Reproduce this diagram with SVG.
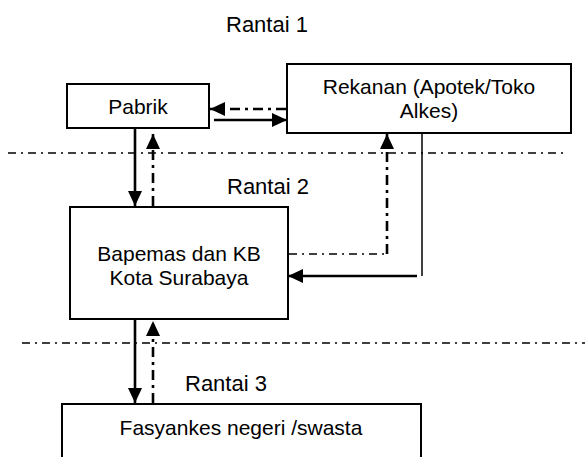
<svg xmlns="http://www.w3.org/2000/svg" width="585" height="457" viewBox="0 0 585 457">
  <style>
    .box { fill: #ffffff; stroke: #000000; stroke-width: 2; }
    .lbl { font-family: "Liberation Sans", Arial, sans-serif; font-size: 21px; fill: #000000; text-anchor: middle; }
    .tier { font-family: "Liberation Sans", Arial, sans-serif; font-size: 22px; fill: #000000; }
    .sep { fill: none; stroke: #000000; stroke-width: 1.5; stroke-dasharray: 8 5 2 5; }
    .flow { fill: none; stroke: #000000; stroke-width: 2.6; }
    .back { fill: none; stroke: #000000; stroke-width: 2.6; stroke-dasharray: 10 5 3 5; }
    .thin { fill: none; stroke: #000000; stroke-width: 1.5; }
    .thinback { fill: none; stroke: #000000; stroke-width: 1.5; stroke-dasharray: 8 5 2 5; }
  </style>
  <defs>
    <marker id="head" markerUnits="userSpaceOnUse" markerWidth="15" markerHeight="14" refX="15" refY="7" orient="auto">
      <path d="M0,0 L15,7 L0,14 Z" fill="#000000"/>
    </marker>
  </defs>

  <rect width="585" height="457" fill="#ffffff"/>

  <!-- tier separators -->
  <g id="separators">
    <line class="sep" x1="8" y1="153" x2="566" y2="153"/>
    <line class="sep" x1="22" y1="343" x2="585" y2="343"/>
  </g>

  <!-- tier labels -->
  <g id="tiers">
    <text class="tier" x="226" y="32">Rantai 1</text>
    <text class="tier" x="227" y="194">Rantai 2</text>
    <text class="tier" x="185" y="391">Rantai 3</text>
  </g>

  <g id="pabrik">
    <rect class="box" x="67" y="84" width="142" height="44"/>
    <text class="lbl" x="138" y="114">Pabrik</text>
  </g>

  <g id="rekanan">
    <rect class="box" x="287" y="64" width="284" height="69"/>
    <text class="lbl" x="429" y="94">Rekanan (Apotek/Toko</text>
    <text class="lbl" x="429" y="118">Alkes)</text>
  </g>

  <g id="bapemas">
    <rect class="box" x="70" y="207" width="218" height="112"/>
    <text class="lbl" x="179" y="261">Bapemas dan KB</text>
    <text class="lbl" x="179" y="285">Kota Surabaya</text>
  </g>

  <g id="fasyankes">
    <rect class="box" x="62" y="404" width="359" height="60"/>
    <text class="lbl" x="241" y="435">Fasyankes negeri /swasta</text>
  </g>

  <!-- connectors -->
  <g id="connectors">
    <!-- Pabrik <-> Rekanan -->
    <line class="back" x1="286" y1="109" x2="210" y2="109" marker-end="url(#head)"/>
    <line class="flow" x1="214" y1="120" x2="287" y2="120" marker-end="url(#head)"/>
    <!-- Pabrik <-> Bapemas -->
    <line class="flow" x1="135" y1="128" x2="135" y2="206" marker-end="url(#head)"/>
    <line class="back" x1="153" y1="206" x2="153" y2="134" marker-end="url(#head)"/>
    <!-- Bapemas <-> Rekanan -->
    <polyline class="thinback" points="289,254 387,254"/>
    <line class="back" x1="387" y1="254" x2="387" y2="134" marker-end="url(#head)"/>
    <line class="thin" x1="422" y1="134" x2="422" y2="276"/>
    <line class="flow" x1="417" y1="276" x2="288" y2="276" marker-end="url(#head)"/>
    <!-- Bapemas <-> Fasyankes -->
    <line class="flow" x1="135" y1="320" x2="135" y2="403" marker-end="url(#head)"/>
    <line class="back" x1="153" y1="403" x2="153" y2="321" marker-end="url(#head)"/>
  </g>
</svg>
